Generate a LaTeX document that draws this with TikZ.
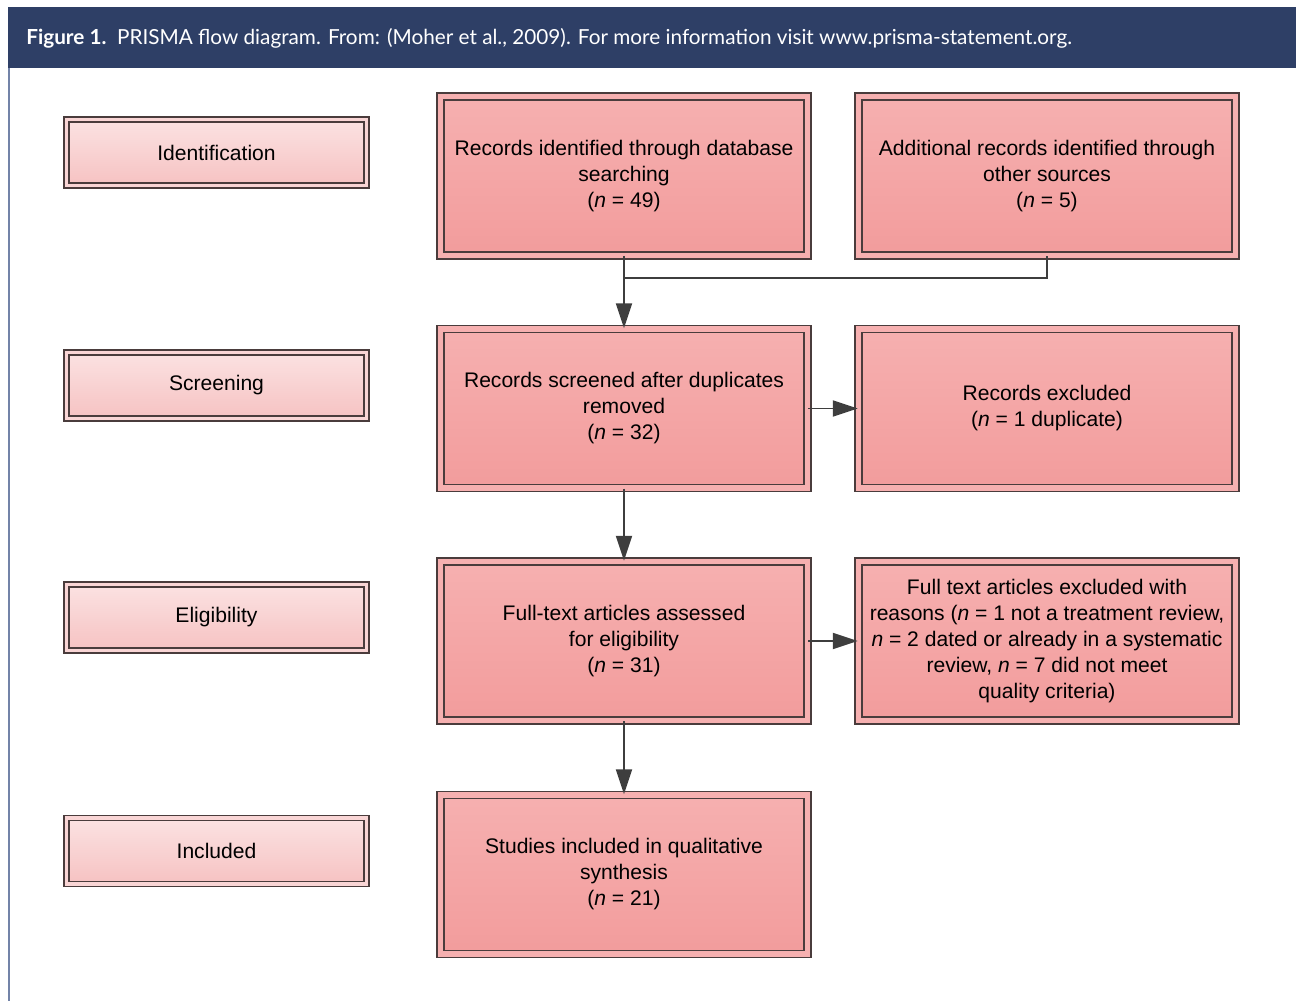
\documentclass[tikz,border=0pt]{standalone}
\usepackage{fontspec}
\setmainfont{Liberation Sans}
\newfontfamily\headfont{Lato}
\usetikzlibrary{arrows.meta,shadows}

\definecolor{headblue}{HTML}{2E3F66}
\definecolor{frameblue}{HTML}{7383A8}
\definecolor{boxline}{HTML}{4A3C3C}
\definecolor{salmontop}{HTML}{F6B0B0}
\definecolor{salmonbot}{HTML}{F29C9C}
\definecolor{labeltop}{HTML}{FBE2E2}
\definecolor{labelbot}{HTML}{F6C2C2}
\definecolor{arrowgray}{HTML}{3E3E3E}

\begin{document}
\begin{tikzpicture}[
            x=0.02cm, y=-0.02cm,
            stagebox/.style={draw=boxline, line width=0.85pt, double=labeltop!60!labelbot, double distance=2pt,
                top color=labeltop, bottom color=labelbot, minimum width=6.0cm, minimum height=1.32cm,
                align=center, font=\fontsize{12}{14.8}\selectfont,
                drop shadow={shadow xshift=1.5pt, shadow yshift=-1.5pt, opacity=0.2}},
            flowbox/.style={draw=boxline, line width=0.85pt, double=salmontop, double distance=3pt,
                top color=salmontop, bottom color=salmonbot, minimum width=7.34cm, minimum height=3.18cm,
                align=center, font=\fontsize{12}{14.8}\selectfont,
                drop shadow={shadow xshift=1.5pt, shadow yshift=-1.5pt, opacity=0.2}},
            sidebox/.style={flowbox, minimum width=7.54cm},
            link/.style={draw=arrowgray, line width=1.1pt, -{Triangle[length=0.5cm, width=0.32cm]}}
            ]
            \useasboundingbox (0,0) rectangle (1296,1001);

            % Caption band
            \fill[headblue] (8,7) rectangle (1296,68);
            \draw[frameblue, line width=1.2pt] (9,68) -- (9,1001);
            \node[anchor=base west, text=white, inner sep=0pt, font=\headfont\fontsize{11.8}{14}\selectfont] (cap) at (26,44)
                {\textbf{Figure 1.}\ \ PRISMA flow diagram. From: (Moher et al., 2009). For more information visit www.prisma-statement.org.};

            % Stage labels
            \node[stagebox] (ident) at (216.5,152.5) {Identification};
            \node[stagebox] (screen) at (216.5,385.5) {Screening};
            \node[stagebox] (elig) at (216.5,617.5) {Eligibility};
            \node[stagebox] (incl) at (216.5,851) {Included};

            % Main column
            \node[flowbox] (dbrec) at (624,176) {Records identified through database\\searching\\(\textit{n} = 49)};
            \node[flowbox] (screened) at (624,408.5) {Records screened after duplicates\\removed\\(\textit{n} = 32)};
            \node[flowbox] (fulltext) at (624,641) {Full-text articles assessed\\for eligibility\\(\textit{n} = 31)};
            \node[flowbox] (studies) at (624,874.5) {Studies included in qualitative\\synthesis\\(\textit{n} = 21)};

            % Side column
            \node[sidebox] (otherrec) at (1047,176) {Additional records identified through\\other sources\\(\textit{n} = 5)};
            \node[sidebox] (excl) at (1047,408.5) {Records excluded\\(\textit{n} = 1 duplicate)};
            \node[sidebox] (exclfull) at (1047,641) {Full text articles excluded with\\reasons (\textit{n} = 1 not a treatment review,\\\textit{n} = 2 dated or already in a systematic\\review, \textit{n} = 7 did not meet\\quality criteria)};

            % Arrows
            \coordinate (join) at (624,278);
            \draw[draw=arrowgray, line width=1.1pt] (otherrec.south) |- (join);
            \draw[link] (dbrec.south) -- (screened.north);
            \draw[link] (screened.east) -- (excl.west);
            \draw[link] (screened.south) -- (fulltext.north);
            \draw[link] (fulltext.east) -- (exclfull.west);
            \draw[link] (fulltext.south) -- (studies.north);
        \end{tikzpicture}
\end{document}
